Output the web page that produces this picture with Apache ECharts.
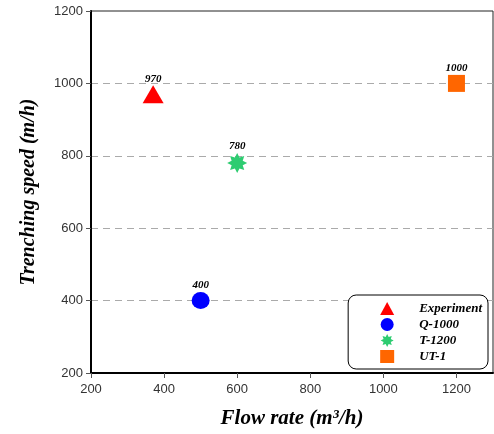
<!DOCTYPE html>
<html><head><meta charset="utf-8">
<script src="https://cdn.jsdelivr.net/npm/echarts@6/dist/echarts.min.js"></script>
<style>html,body{margin:0;padding:0;background:#fff}#c{width:494px;height:434px}</style>
</head><body><div id="c"></div>
<script>
const seriesNames = ['Experiment', 'Q-1000', 'T-1200', 'UT-1'];
const flowRates = [370, 500, 600, 1200];
const speeds = [970, 400, 780, 1000];
const xTicks = [200, 400, 600, 800, 1000, 1200];
const yTicks = [200, 400, 600, 800, 1000, 1200];

// burst star path (style only)
function burst(n, r1, r2) {
  let d = '';
  for (let i = 0; i < n * 2; i++) {
    const a = Math.PI * i / n - Math.PI / 2;
    const r = i % 2 === 0 ? r1 : r2;
    d += (i === 0 ? 'M' : 'L') + (50 + r * Math.cos(a)).toFixed(2) + ' ' + (50 + r * Math.sin(a)).toFixed(2);
  }
  return 'path://' + d + 'Z';
}
const starPath = burst(8, 50, 30);
const symbols = ['triangle', 'circle', starPath, 'rect'];
const sizes = [[21, 18], [18, 17], [20, 20], [17, 17]];
const colors = ['#ff0000', '#0000ff', '#2ecc71', '#ff6600'];

const chart = echarts.init(document.getElementById('c'));
const labelFont = {fontFamily: 'Liberation Serif', fontStyle: 'italic', fontWeight: 'bold', fontSize: 11, color: '#000'};
chart.setOption({
  animation: false,
  grid: {left: 91, right: 1, top: 11, bottom: 59, show: true, borderColor: '#222', borderWidth: 1},
  xAxis: {
    type: 'value', min: 200, max: 1300, interval: 100,
    name: 'Flow rate (m³/h)', nameLocation: 'middle', nameGap: 35,
    nameTextStyle: {fontFamily: 'Liberation Serif', fontStyle: 'italic', fontWeight: 'bold', fontSize: 21, color: '#000'},
    axisLine: {lineStyle: {color: '#000', width: 2}},
    axisTick: {show: true, customValues: xTicks, length: 5, lineStyle: {color: '#555'}},
    axisLabel: {customValues: xTicks, formatter: v => String(v), fontFamily: 'Liberation Sans', fontSize: 13, color: '#333', margin: 10},
    splitLine: {show: false}
  },
  yAxis: {
    type: 'value', min: 200, max: 1200, interval: 200,
    name: 'Trenching speed (m/h)', nameLocation: 'middle', nameGap: 52,
    nameTextStyle: {fontFamily: 'Liberation Serif', fontStyle: 'italic', fontWeight: 'bold', fontSize: 20, color: '#000'},
    axisLine: {show: true, lineStyle: {color: '#000', width: 2}},
    axisTick: {show: true, length: 5, lineStyle: {color: '#555'}},
    axisLabel: {formatter: v => String(v), fontFamily: 'Liberation Sans', fontSize: 13, color: '#333', margin: 8},
    splitLine: {show: true, lineStyle: {color: '#aaa', type: [7, 5], width: 1},
      showMinLine: false, showMaxLine: false}
  },
  legend: {
    orient: 'vertical', right: 6, bottom: 65,
    backgroundColor: '#fff', borderColor: '#000', borderWidth: 1, borderRadius: 8,
    padding: [7, 6, 6, 32],
    itemGap: 3, itemWidth: 14, itemHeight: 13,
    textStyle: {fontFamily: 'Liberation Serif', fontStyle: 'italic', fontWeight: 'bold', fontSize: 13, color: '#000', padding: [0, 0, 0, 20], width: 90},
    data: seriesNames.map((n, i) => ({name: n, icon: symbols[i]}))
  },
  series: seriesNames.map((n, i) => ({
    name: n, type: 'scatter',
    data: [[flowRates[i], speeds[i]]],
    symbol: symbols[i], symbolSize: sizes[i],
    itemStyle: {color: colors[i], opacity: 1},
    label: {show: true, position: 'top', distance: 1, formatter: p => String(p.value[1]), ...labelFont}
  }))
});
</script></body></html>
